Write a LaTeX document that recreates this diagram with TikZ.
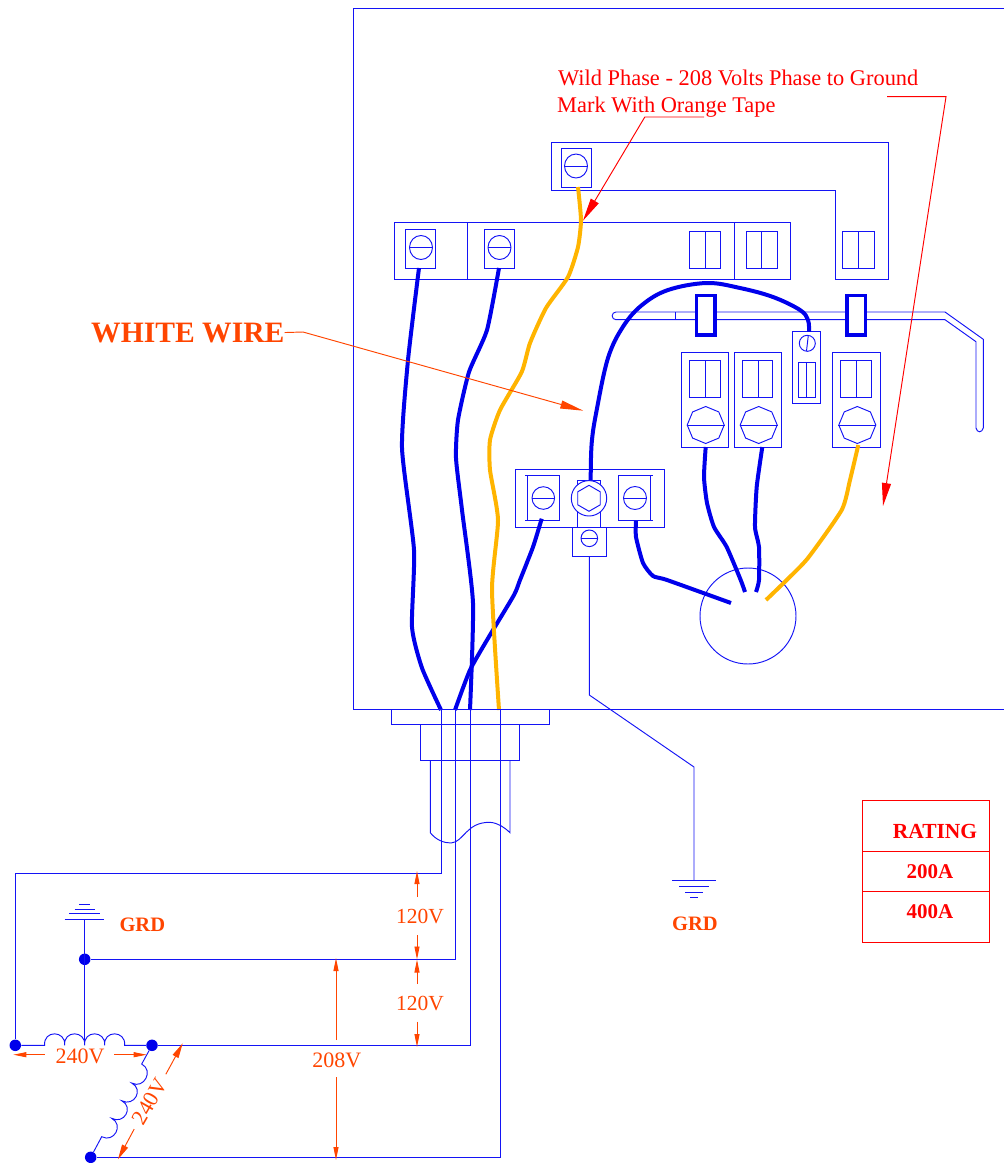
\documentclass[tikz,border=0pt]{standalone}
\usepackage{fontspec}
\setmainfont{Liberation Serif}
\usetikzlibrary{arrows.meta,shapes.geometric}
\definecolor{wireblue}{RGB}{20,20,245}
\definecolor{heavyblue}{RGB}{0,0,235}
\definecolor{wireorange}{RGB}{255,180,0}
\definecolor{dimorange}{RGB}{255,69,0}
\definecolor{noteRed}{RGB}{255,0,0}
\newcommand\fsz[1]{\fontsize{#1}{#1}\selectfont}
\tikzset{
  thinline/.style={draw=wireblue,line width=0.95pt,line join=miter},
  bluewire/.style={draw=heavyblue,line width=4pt,line join=round},
  orangewire/.style={draw=wireorange,line width=4pt,line join=round},
  clampbox/.style={draw=heavyblue,line width=3.2pt},
  dimarrow/.style={draw=dimorange,line width=0.95pt,-{Triangle[length=13pt,width=5pt]}},
  dimarrowb/.style={draw=dimorange,line width=0.95pt,-{Triangle[length=15pt,width=6.5pt]}},
  leaderred/.style={draw=noteRed,line width=0.95pt,-{Triangle[length=23pt,width=9pt]}},
  leaderorange/.style={draw=dimorange,line width=0.95pt,-{Triangle[length=23pt,width=8pt]}},
  dimlabel/.style={text=dimorange,font=\fsz{22},inner sep=0pt},
  boldorange/.style={text=dimorange,font=\bfseries\fsz{20.5},inner sep=0pt},
  notelabel/.style={text=noteRed,font=\fsz{22.4},anchor=base west,inner sep=0pt},
  ratinglabel/.style={text=noteRed,font=\bfseries\fsz{21},inner sep=0pt},
  junction/.style={circle,fill=heavyblue,draw=none,minimum size=11.5pt,inner sep=0pt},
  octabolt/.style={regular polygon,regular polygon sides=8,shape border rotate=22.5,thinline,minimum size=37pt,inner sep=0pt},
  hexbolt/.style={regular polygon,regular polygon sides=6,shape border rotate=30,thinline,minimum size=26pt,inner sep=0pt},
}
\newcommand\screwterm[3]{% centre x, centre y, half-width
  \draw[thinline] (#1,#2) ellipse[x radius=#3,y radius=12];
  \draw[thinline] (#1-#3,#2) -- (#1+#3,#2);
}
\newcommand\lugbox[5]{% x1 x2 xm y1 y2
  \draw[thinline] (#1,#4) rectangle (#2,#5);
  \draw[thinline] (#3,#4) -- (#3,#5);
}
\begin{document}
\begin{tikzpicture}[x=1pt,y=-1pt]
\useasboundingbox (0,0) rectangle (1004,1163);
% enclosure
\draw[thinline] (1004,8) -- (353,8) -- (353,709) -- (1004,709);
% top bus
\draw[thinline] (551,142.5) -- (888.5,142.5) -- (888.5,279) -- (835,279) -- (835,190.5) -- (551,190.5) -- cycle;
\draw[thinline] (561.5,148) rectangle (591.5,187);
\screwterm{576}{166}{11.5}
\lugbox{842}{874}{858}{231.5}{268.5}
% main bus
\draw[thinline] (394.5,222) rectangle (790.5,279.5);
\draw[thinline] (467.5,222) -- (467.5,279.5);
\draw[thinline] (734.5,222) -- (734.5,279.5);
\draw[thinline] (405.5,229) rectangle (435.5,268.5);
\screwterm{421}{247.5}{11.5}
\draw[thinline] (484.5,229) rectangle (514.5,268.5);
\screwterm{499.5}{247.5}{11.5}
\lugbox{689.5}{720.5}{705}{231.5}{268.5}
\lugbox{746.5}{777.5}{761}{231.5}{268.5}
% breaker bar
\draw[thinline] (945,312) -- (616,312) arc[start angle=270,end angle=90,radius=3.85] -- (945,319.7);
\draw[thinline] (945,312) -- (983.3,339.3) -- (983.3,428);
\draw[thinline] (945,319.7) -- (976,341.7) -- (976,428);
\draw[thinline] (976,428) .. controls (977,433) and (982,433) .. (983.3,428);
\draw[thinline] (675.3,312) -- (675.3,319.7);
\fill[white] (696,294.5) rectangle (716,336);
\fill[white] (846.5,294.5) rectangle (866.5,336);
\draw[clampbox] (696.5,295.5) rectangle (715,335);
\draw[clampbox] (847,295.5) rectangle (865.5,335);
% breaker lugs
\draw[thinline] (681.5,352) rectangle (728.5,447.3);
\lugbox{689.5}{720.5}{705.5}{360.7}{397.7}
\node[octabolt] (bolta) at (705.7,425) {};
\draw[thinline] (bolta.west) -- (bolta.east);
\draw[thinline] (734,352) rectangle (781.3,447.3);
\lugbox{742.7}{772.7}{758.7}{360.7}{397.7}
\node[octabolt] (boltb) at (758.7,425) {};
\draw[thinline] (boltb.west) -- (boltb.east);
\draw[thinline] (832.3,352) rectangle (880.3,447.3);
\lugbox{840.7}{871}{856.7}{360.7}{397.7}
\node[octabolt] (boltc) at (857.3,425) {};
\draw[thinline] (boltc.west) -- (boltc.east);
% small neutral lug
\draw[thinline] (792.7,331) rectangle (820,403.3);
\draw[thinline] (807.3,343.3) circle[radius=8];
\draw[thinline] (808.3,335.5) -- (806.5,351);
\lugbox{798.3}{815.3}{806.7}{362.7}{397.3}
% neutral block
\draw[thinline] (515.7,469.3) rectangle (664,527.3);
\draw[thinline] (527.3,475.7) rectangle (559.3,520.3);
\draw[thinline] (525,475.7) -- (527.3,475.7) (525,520.3) -- (527.3,520.3);
\draw[thinline] (543.3,498) circle[radius=11.3];
\draw[thinline] (532,498) -- (554.6,498);
\draw[thinline] (618.7,475.7) rectangle (650.7,520.3);
\draw[thinline] (650.7,475.7) -- (653.3,475.7) (650.7,520.3) -- (653.3,520.3);
\draw[thinline] (635,498) circle[radius=11.5];
\draw[thinline] (623.5,498) -- (646.5,498);
\draw[thinline] (577.7,480.7) rectangle (600.3,527.3);
\fill[white] (589,498.3) circle[radius=17.7];
\draw[thinline] (589,498.3) circle[radius=17.7];
\node[hexbolt] (hexb) at (589,498.3) {};
\draw[thinline] (572.7,527.3) rectangle (606,556);
\draw[thinline] (589.3,538.3) circle[radius=8.3];
\draw[thinline] (581,538.3) -- (597.6,538.3);
% ground run
\coordinate (gndtop) at (694,880);
\draw[thinline] (589.3,556) -- (589.3,695) -- (694,767) -- (gndtop);
\draw[thinline] (672,880) -- (716,880) (679,886) -- (709,886) (685,892) -- (703,892) (690,897) -- (698,897);
\node[boldorange] (grdb) at (695,923.5) {GRD};
% meter circle
\draw[thinline] (748,616) circle[radius=48];
% panel wires
\draw[bluewire] plot[smooth,tension=0.35] coordinates {(419,268) (408,360) (402,448) (414,550) (412,627) (422,668) (441,710)};
\draw[bluewire] plot[smooth,tension=0.35] coordinates {(499,268) (487,330) (469,372) (458,420) (456,458) (462,510) (473,603) (470,710)};
\draw[bluewire] plot[smooth,tension=0.35] coordinates {(541.7,518.7) (533,547) (520,580) (514,595) (490,635) (470,670) (455,710)};
\draw[orangewire] plot[smooth,tension=0.35] coordinates {(578,187) (581,220) (578,247) (568,277) (546,308) (530,343) (521.7,372) (500,410) (490,440) (490,470) (498,520) (492,590) (499,710)};
\draw[bluewire] plot[smooth,tension=0.6] coordinates {(590.7,480) (591.7,443) (596.7,410) (608,358) (623,326.7) (642,305) (668,290) (706.7,283) (740,288) (773,297) (800,310) (808,320) (809,331.7)};
\draw[bluewire] plot[smooth,tension=0.35] coordinates {(705.7,447) (704,477) (707,503) (714,527) (726.7,547) (740.7,580) (745,592)};
\draw[bluewire] plot[smooth,tension=0.35] coordinates {(762.3,447) (756.7,487) (755,527) (759,547) (759,580) (756,592)};
\draw[orangewire] plot[smooth,tension=0.35] coordinates {(858.3,445) (850,480) (841.7,510) (808,558) (786.7,580) (766,600)};
\draw[bluewire] plot[smooth,tension=0.35] coordinates {(636,521) (636,537) (643,563) (653,576) (667,580) (731,603)};
% conduit fitting
\draw[thinline] (391,709) rectangle (549.3,724.3);
\draw[thinline] (420.3,724.3) rectangle (519.3,760.7);
\draw[thinline] (430.3,760.7) -- (430.3,832.7) .. controls (436,840) and (444,843) .. (451,843) .. controls (464,842) and (466,822) .. (490,822.3) .. controls (498,823) and (504,827) .. (510,832.7) -- (510,760.7);
% service conductors
\node[junction] (djA) at (15.3,1045.3) {};
\node[junction] (djN) at (84.7,959.3) {};
\node[junction] (djB) at (152,1045.3) {};
\node[junction] (djC) at (90.7,1157.3) {};
\coordinate (condA) at (441,709);
\coordinate (condN) at (455.3,709);
\coordinate (condB) at (470,709);
\coordinate (condC) at (500.7,709);
\draw[thinline] (condA) -- (441,873) -- (15.3,873) -- (djA);
\draw[thinline] (condN) |- (djN);
\draw[thinline] (condB) |- (djB);
\draw[thinline] (condC) |- (djC);
% transformer coils
\draw[thinline] (djA) -- (44.7,1045.3)
  .. controls (43,1030) and (66,1030) .. (64.7,1045.3)
  .. controls (63,1030) and (86,1030) .. (84.7,1045.3)
  .. controls (83,1030) and (106,1030) .. (104.7,1045.3)
  .. controls (103,1030) and (126,1030) .. (124.7,1045.3) -- (djB);
\draw[thinline] (djB) -- (141.7,1064)
  .. controls (154,1070.5) and (144,1089.5) .. (131.7,1083)
  .. controls (144.1,1089.5) and (134.1,1107.2) .. (121.7,1100.7)
  .. controls (134.1,1107.2) and (124.1,1124.8) .. (111.7,1118.3)
  .. controls (124.1,1124.8) and (114.1,1143.2) .. (101.7,1136.7) -- (djC);
% service ground
\coordinate (gnda) at (84.5,919.3);
\draw[thinline] (gnda) -- (84.5,1045.3);
\draw[thinline] (64.7,919.3) -- (104.3,919.3) (69,913.3) -- (100,913.3) (74.7,909) -- (95,909) (79.3,904) -- (90,904);
\node[boldorange] (grda) at (142.3,924.5) {GRD};
% voltage dimensions
\node[dimlabel,font=\fsz{21.5},minimum height=38pt] (va) at (420,917) {120V};
\node[dimlabel,font=\fsz{21.5},minimum height=38pt] (vb) at (420,1003.5) {120V};
\node[dimlabel,minimum height=37pt] (vc) at (336.7,1060) {208V};
\node[dimlabel,minimum width=70pt] (vd) at (80,1056) {240V};
\node[dimlabel,minimum width=63pt,rotate=60] (ve) at (150,1101.7) {240V};
\draw[dimarrow] (417,897) -- (417,871);
\draw[dimarrow] (417,935) -- (417,959.5);
\draw[dimarrow] (417,984) -- (417,959.5);
\draw[dimarrow] (417,1021.5) -- (417,1047);
\draw[dimarrow] (336,1040) -- (336,958);
\draw[dimarrow] (336,1077) -- (336,1160);
\draw[dimarrow] (44.7,1054.7) -- (13.3,1054.7);
\draw[dimarrow] (114,1054.7) -- (146.7,1054.7);
\draw[dimarrowb] (ve.east) -- (182.7,1043.3);
\draw[dimarrowb] (ve.west) -- (118,1159.3);
% callouts
\node[notelabel] (notea) at (558,85.5) {Wild Phase - 208 Volts Phase to Ground};
\node[notelabel] (noteb) at (557,112.5) {Mark With Orange Tape};
\draw[leaderred] (704,117) -- (644.8,117) -- (583,220.7);
\draw[leaderred] (887,96.7) -- (946,96.7) -- (883,506);
\node[text=dimorange,font=\bfseries\fsz{29.6},inner sep=0pt,anchor=base west] (white) at (91,342) {WHITE WIRE};
\draw[leaderorange] (white.east) -- (303,332) -- (583.3,410.7);
% rating table
\node[draw=noteRed,line width=0.95pt,minimum width=127pt,minimum height=142pt,inner sep=0pt] (rating) at (925.5,871) {};
\draw[draw=noteRed,line width=0.95pt] (862,851) -- (989,851) (862,891) -- (989,891);
\node[ratinglabel,font=\bfseries\fsz{21.5}] (rta) at (935,831.5) {RATING};
\node[ratinglabel] (rtb) at (930,871.5) {200A};
\node[ratinglabel] (rtc) at (930,911.5) {400A};
\end{tikzpicture}
\end{document}
